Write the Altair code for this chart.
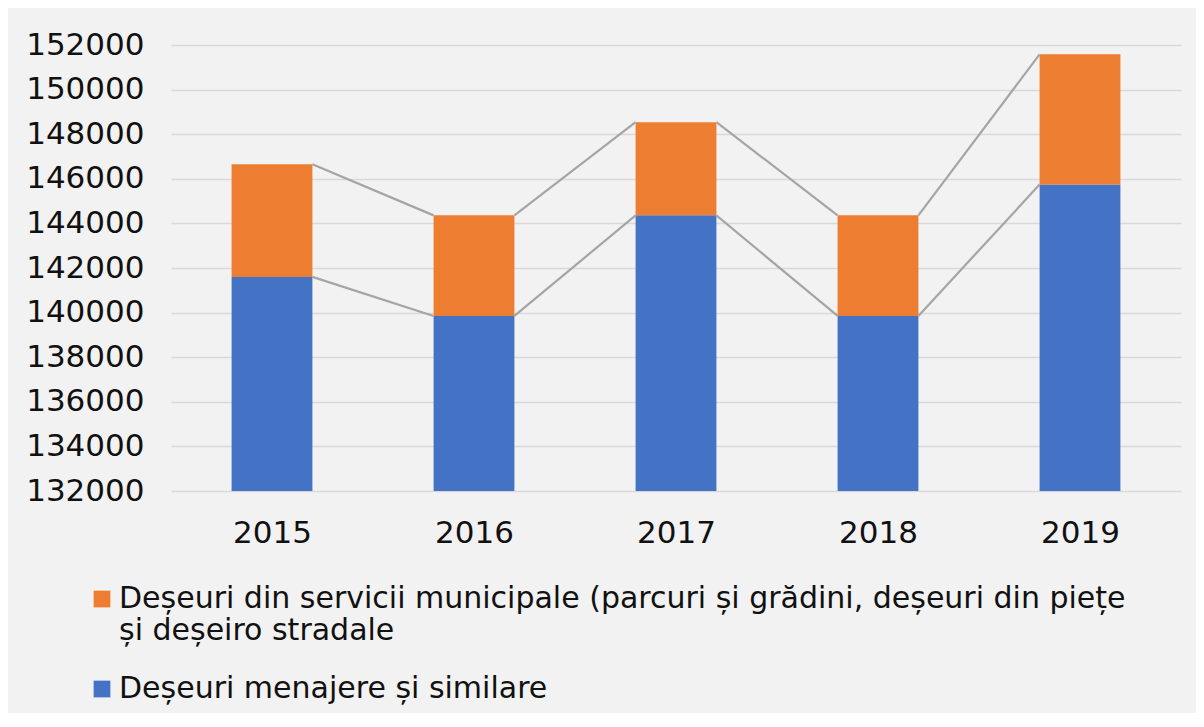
import json
import altair as alt
import pandas as pd

years = ["2015", "2016", "2017", "2018", "2019"]
menajere = [141600, 139850, 144360, 139850, 145740]
municipale = [5050, 4510, 4180, 4510, 5840]

lab_mun = "Deșeuri din servicii municipale (parcuri și grădini, deșeuri din piețe\nși deșeiro stradale"
lab_men = "Deșeuri menajere și similare"
y_ticks = list(range(132000, 152001, 2000))

BLUE = "#4472c4"
ORANGE = "#ed7d31"
FONT = "DejaVu Sans"

totals = [m + u for m, u in zip(menajere, municipale)]

rows = []
for i, y in enumerate(years):
    rows.append(dict(i=i, year=y, series=lab_men, lo=0, hi=menajere[i]))
    rows.append(dict(i=i, year=y, series=lab_mun, lo=menajere[i], hi=totals[i]))
bars_df = pd.DataFrame(rows)

seg_rows = []
for level in (menajere, totals):
    for i in range(len(years) - 1):
        seg_rows.append(dict(a=i, b=i + 1, v0=level[i], v1=level[i + 1]))
seg_df = pd.DataFrame(seg_rows)

xscale = alt.Scale(domain=[-0.5, 4.5], nice=False, zero=False)
yscale = alt.Scale(domain=[132000, 152000], nice=False, zero=False)

x_axis = alt.Axis(
    values=list(range(len(years))),
    labelExpr=json.dumps(years) + "[datum.value]",
    title=None, domain=False, ticks=False, grid=False,
    labelFontSize=31, labelFont=FONT, labelColor="#111111", labelPadding=27,
)
y_axis = alt.Axis(
    values=y_ticks, format="d", title=None, domain=False, ticks=False,
    grid=True, gridColor="#d9d9d9", gridWidth=1.5,
    labelFontSize=31, labelFont=FONT, labelColor="#111111", labelPadding=27,
)

bars = alt.Chart(bars_df).transform_calculate(
    x0="datum.i - 0.2", x1="datum.i + 0.2"
).mark_bar(clip=True).encode(
    x=alt.X("x0:Q", scale=xscale, axis=x_axis),
    x2="x1:Q",
    y=alt.Y("lo:Q", scale=yscale, axis=y_axis),
    y2="hi:Q",
    color=alt.Color(
        "series:N",
        scale=alt.Scale(domain=[lab_mun, lab_men], range=[ORANGE, BLUE]),
        legend=alt.Legend(
            orient="none", legendX=-84, legendY=539, direction="vertical",
            title=None, symbolType="square", symbolSize=280, symbolStrokeWidth=0,
            labelFontSize=30, labelFont=FONT, labelColor="#111111",
            labelLimit=1500, labelOffset=2, rowPadding=28,
            labelExpr="split(datum.label, '\\n')",
        ),
    ),
)

lines = alt.Chart(seg_df).transform_calculate(
    xs="datum.a + 0.2", xe="datum.b - 0.2"
).mark_rule(color="#a5a5a5", strokeWidth=2.2).encode(
    x=alt.X("xs:Q", scale=xscale),
    x2="xe:Q",
    y=alt.Y("v0:Q", scale=yscale),
    y2="v1:Q",
)

chart = alt.layer(bars, lines).properties(
    width=1010, height=446,
    autosize=alt.AutoSizeParams(type="none"),
    padding={"left": 163, "top": 37, "right": 15, "bottom": 222},
    background="#f2f2f2",
).configure_view(strokeOpacity=0)

chart.save("out.html", embed_options={"renderer": "svg", "actions": False})
